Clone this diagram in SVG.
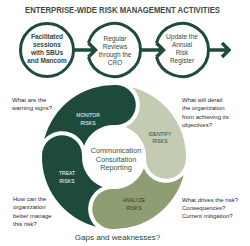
<svg xmlns="http://www.w3.org/2000/svg" width="250" height="246" viewBox="0 0 250 246">
<style>
.t{font-family:"Liberation Sans",Arial,sans-serif}
.title{font-size:8.5px;font-weight:bold;fill:#3e4b45}
.ct{font-size:6.5px;fill:#2e4a3f;text-anchor:middle}
.b{font-weight:bold}
.q{font-size:6px;fill:#2b2b2b}
.lbl{font-size:5px;text-anchor:middle}
.ring{fill:none;stroke:#1f4a3c;stroke-width:3}
.arr{fill:none;stroke:#1f4a3c;stroke-width:3.5}
.center{font-size:7.3px;fill:#2a5a4a;text-anchor:middle}
</style>
<rect width="250" height="246" fill="#fff"/>
<text class="t title" x="122.5" y="13" text-anchor="middle" textLength="195" lengthAdjust="spacingAndGlyphs">ENTERPRISE-WIDE RISK MANAGEMENT ACTIVITIES</text>

<g id="step1">
<circle class="ring" cx="47" cy="50" r="26.5"/>
<text class="t ct b"><tspan x="47" y="38.5">Facilitated</tspan><tspan x="47" y="46.8">sessions</tspan><tspan x="47" y="55.1">with SBUs</tspan><tspan x="47" y="63.4">and Mancom</tspan></text>
</g>
<g id="step2">
<path class="ring" d="M88.44 43 A26.5 26.5 0 1 1 88.44 57"/>
<text class="t ct"><tspan x="115" y="40.5">Regular</tspan><tspan x="115" y="48.8">Reviews</tspan><tspan x="115" y="57.1">through the</tspan><tspan x="115" y="65.4">CRO</tspan></text>
</g>
<g id="step3">
<path class="ring" d="M156.44 43 A26.5 26.5 0 1 1 156.44 57"/>
<text class="t ct"><tspan x="182" y="38.5">Update the</tspan><tspan x="182" y="46.8">Annual</tspan><tspan x="182" y="55.1">Risk</tspan><tspan x="182" y="63.4">Register</tspan></text>
</g>
<g id="connectors">
<path class="arr" d="M73.5 50 H93.5 M88.44 43 L95.44 50 L88.44 57"/>
<path class="arr" d="M140.5 50 H161.5 M156.44 43 L163.44 50 L156.44 57"/>
<path class="arr" d="M208.5 50 H228 M222 43 L229 50 L222 57"/>
</g>

<g id="monitor">
<path fill="#1d4a3b" d="M44.28 139.03 A72 72 0 0 1 116.51 85.04 A20 20 0 0 1 115.12 125.02 A32 32 0 0 0 84.07 145.67 A24 24 0 0 0 44.28 139.03 Z"/>
<text class="t lbl" fill="#fff"><tspan x="88" y="117">MONITOR</tspan><tspan x="88" y="124.5">RISKS</tspan></text>
</g>
<g id="identify">
<path fill="#c3cbb3" d="M131.97 87.28 A72 72 0 0 1 185.96 159.51 A20 20 0 0 1 145.98 158.12 A32 32 0 0 0 125.33 127.07 A24 24 0 0 0 131.97 87.28 Z"/>
<text class="t lbl" fill="#33443a"><tspan x="160" y="135.8">IDENTIFY</tspan><tspan x="160" y="143">RISKS</tspan></text>
</g>
<g id="analyze">
<path fill="#8f9d73" d="M183.72 174.97 A72 72 0 0 1 111.49 228.96 A20 20 0 0 1 112.88 188.98 A32 32 0 0 0 143.93 168.33 A24 24 0 0 0 183.72 174.97 Z"/>
<text class="t lbl" fill="#2e3b2c"><tspan x="134" y="202">ANALYZE</tspan><tspan x="134" y="209.5">RISKS</tspan></text>
</g>
<g id="treat">
<path fill="#1d4a3b" d="M96.03 226.72 A72 72 0 0 1 42.04 154.49 A20 20 0 0 1 82.02 155.88 A32 32 0 0 0 102.67 186.93 A24 24 0 0 0 96.03 226.72 Z"/>
<text class="t lbl" fill="#fff"><tspan x="67" y="174.8">TREAT</tspan><tspan x="67" y="182.5">RISKS</tspan></text>
</g>
<g id="hub">
<text class="t center"><tspan x="116" y="153">Communication</tspan><tspan x="116" y="161.5">Consultation</tspan><tspan x="116" y="170">Reporting</tspan></text>
</g>

<text class="t q"><tspan x="12" y="102">What are the</tspan><tspan x="12" y="110">warning signs?</tspan></text>
<text class="t q"><tspan x="182" y="102">What will derail</tspan><tspan x="182" y="110.3">the organization</tspan><tspan x="182" y="118.6">from achieving its</tspan><tspan x="182" y="126.9">objectives?</tspan></text>
<text class="t q"><tspan x="13" y="201">How can the</tspan><tspan x="13" y="209.3">organization</tspan><tspan x="13" y="217.6">better manage</tspan><tspan x="13" y="225.9">this risk?</tspan></text>
<text class="t q"><tspan x="182" y="202">What drives the risk?</tspan><tspan x="182" y="210.2">Consequences?</tspan><tspan x="182" y="218.4">Current mitigation?</tspan></text>
<text class="t" x="117.5" y="239.5" font-size="8" fill="#24463b" text-anchor="middle">Gaps and weaknesses?</text>
</svg>
